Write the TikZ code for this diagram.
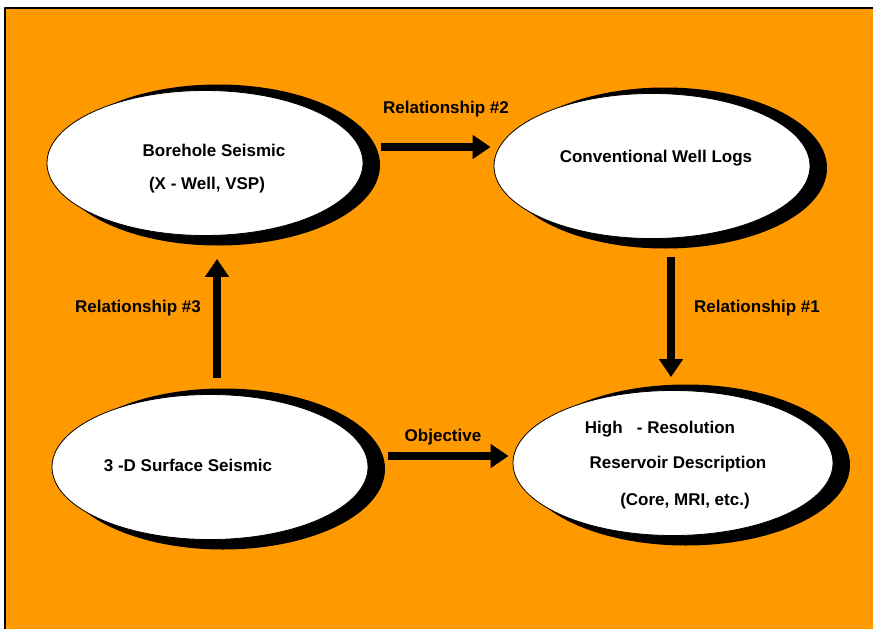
\documentclass[tikz,border=0pt]{standalone}
\usepackage{fontspec}
\setmainfont{Liberation Sans}
\usetikzlibrary{shapes.geometric,arrows.meta}
\definecolor{slidebg}{HTML}{FF9900}

\begin{document}
\begin{tikzpicture}[x=1pt, y=-1pt, line cap=round, line join=round,
  bubble/.style={ellipse, draw=black, line width=0.8pt, fill=white, inner sep=0pt,
    minimum width=316pt, minimum height=145pt},
  backing/.style={ellipse, fill=black, inner sep=0pt,
    minimum width=324pt, minimum height=161pt},
  words/.style={anchor=base, inner sep=0pt, font=\fontsize{17}{20}\selectfont\bfseries},
  bigarrow/.style={line width=8pt, line cap=butt, -{Triangle[length=18pt,width=23pt]}}]

% Page size and slide background
\useasboundingbox (0,0) rectangle (873,629);
\fill[slidebg] (5,8) rectangle (873,629);
\draw[line width=2pt, line cap=butt] (5,629) -- (5,8) -- (873,8);

% Shadows behind the four ellipses
\node[backing] (boreS) at (218,165) {};
\node[backing] (logsS) at (665,168) {};
\node[backing] (surfS) at (223,469) {};
\node[backing, minimum width=328pt] (hiresS) at (686,465) {};

% The four ellipses
\node[bubble] (bore) at (205,163) {};
\node[bubble] (logs) at (652,166) {};
\node[bubble] (surf) at (210,467) {};
\node[bubble, minimum width=320pt] (hires) at (673,463) {};

% Texts inside the ellipses
\node[words] (boreA) at (214,156) {Borehole Seismic};
\node[words] (boreB) at (207,189) {(X - Well, VSP)};
\node[words] (logsA) at (656,162) {Conventional Well Logs};
\node[words] (surfA) at (188,471) {3 -D Surface Seismic};
\node[words] (hiresA) at (660,433) {High\ \ \ - Resolution};
\node[words] (hiresB) at (678,468) {Reservoir Description};
\node[words] (hiresC) at (685,505) {(Core, MRI, etc.)};

% Arrows between the ellipses
\draw[bigarrow, shorten <=18pt, shorten >=3pt] (bore.east |- 0,147) -- (logs.west |- 0,147);
\draw[bigarrow, shorten <=18pt, shorten >=13pt] (671,0 |- logs.south) -- (671,0 |- hires.north);
\draw[bigarrow, shorten <=16pt, shorten >=23pt] (217,0 |- surf.north) -- (217,0 |- bore.south);
\draw[bigarrow, shorten <=20pt, shorten >=4pt] (surf.east |- 0,456) -- (hires.west |- 0,456);

% Arrow labels
\node[words] (rel2) at (446,113) {Relationship \#2};
\node[words] (rel1) at (757,312) {Relationship \#1};
\node[words] (rel3) at (138,312) {Relationship \#3};
\node[words] (goal) at (443,441) {Objective};

\end{tikzpicture}
\end{document}
